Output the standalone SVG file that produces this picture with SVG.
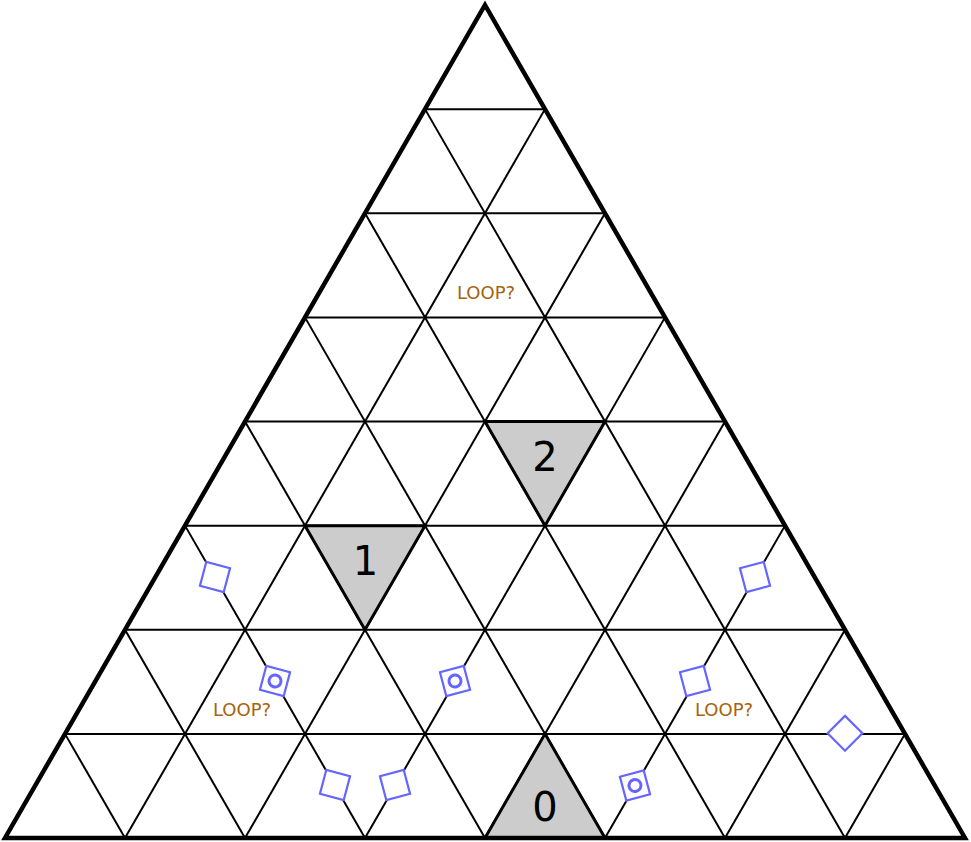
<svg xmlns="http://www.w3.org/2000/svg" xmlns:xlink="http://www.w3.org/1999/xlink" width="971" height="842" viewBox="0 0 971 842">
<style>
.grid line{stroke:#000;stroke-width:2;fill:none}
.cell{fill:#cccccc;stroke:#000;stroke-width:3;stroke-linejoin:miter}
.outer{fill:none;stroke:#000;stroke-width:4.5;stroke-linejoin:miter}
.sqr{fill:#fff;stroke:#6666ff;stroke-width:2.2}
.ring{fill:none;stroke:#6666ff;stroke-width:3}
.num{font-family:"DejaVu Sans",sans-serif;font-size:40px;text-anchor:middle;fill:#000}
.loop{font-family:"DejaVu Sans",sans-serif;font-size:18px;text-anchor:middle;fill:#a5640f}
</style>
<defs>
<rect id="sq" class="sqr" x="-12.3" y="-12.3" width="24.6" height="24.6"/>
</defs>
<rect x="0" y="0" width="971" height="842" fill="#fff"/>
<g id="connectors" class="grid">
<line x1="425" y1="109.125" x2="545" y2="109.125"/>
<line x1="365" y1="213.25" x2="605" y2="213.25"/>
<line x1="305" y1="317.375" x2="665" y2="317.375"/>
<line x1="245" y1="421.5" x2="725" y2="421.5"/>
<line x1="185" y1="525.625" x2="785" y2="525.625"/>
<line x1="125" y1="629.75" x2="845" y2="629.75"/>
<line x1="65" y1="733.875" x2="905" y2="733.875"/>
<line x1="425" y1="109.125" x2="845" y2="838"/>
<line x1="365" y1="213.25" x2="725" y2="838"/>
<line x1="305" y1="317.375" x2="605" y2="838"/>
<line x1="245" y1="421.5" x2="485" y2="838"/>
<line x1="185" y1="525.625" x2="365" y2="838"/>
<line x1="125" y1="629.75" x2="245" y2="838"/>
<line x1="65" y1="733.875" x2="125" y2="838"/>
<line x1="545" y1="109.125" x2="125" y2="838"/>
<line x1="605" y1="213.25" x2="245" y2="838"/>
<line x1="665" y1="317.375" x2="365" y2="838"/>
<line x1="725" y1="421.5" x2="485" y2="838"/>
<line x1="785" y1="525.625" x2="605" y2="838"/>
<line x1="845" y1="629.75" x2="725" y2="838"/>
<line x1="905" y1="733.875" x2="845" y2="838"/>
</g>
<g id="cell2"><polygon class="cell" points="485,421.5 605,421.5 545,525.625"/><text class="num" x="545" y="471">2</text></g>
<g id="cell1"><polygon class="cell" points="305,525.625 425,525.625 365,629.75"/><text class="num" x="365.5" y="575">1</text></g>
<g id="cell0"><polygon class="cell" points="545,733.875 485,838 605,838"/><text class="num" x="545" y="821">0</text></g>
<g id="border"><polygon class="outer" points="485,5 965,838 5,838"/></g>
<g id="markers">
<g id="m1" transform="translate(215,577) rotate(15)"><use xlink:href="#sq"/></g>
<g id="m2" transform="translate(275,681) rotate(15)"><use xlink:href="#sq"/><circle class="ring" r="6"/></g>
<g id="m3" transform="translate(455,681) rotate(-15)"><use xlink:href="#sq"/><circle class="ring" r="6"/></g>
<g id="m4" transform="translate(335,785) rotate(15)"><use xlink:href="#sq"/></g>
<g id="m5" transform="translate(395,785) rotate(-15)"><use xlink:href="#sq"/></g>
<g id="m6" transform="translate(755,577) rotate(-15)"><use xlink:href="#sq"/></g>
<g id="m7" transform="translate(695,681) rotate(-15)"><use xlink:href="#sq"/></g>
<g id="m8" transform="translate(635,785.5) rotate(-15)"><use xlink:href="#sq"/><circle class="ring" r="6"/></g>
<g id="m9" transform="translate(845,733.3) rotate(45)"><use xlink:href="#sq"/></g>
</g>
<g id="labels">
<text class="loop" x="486" y="299">LOOP?</text>
<text class="loop" x="242" y="716">LOOP?</text>
<text class="loop" x="724" y="716">LOOP?</text>
</g>
</svg>
